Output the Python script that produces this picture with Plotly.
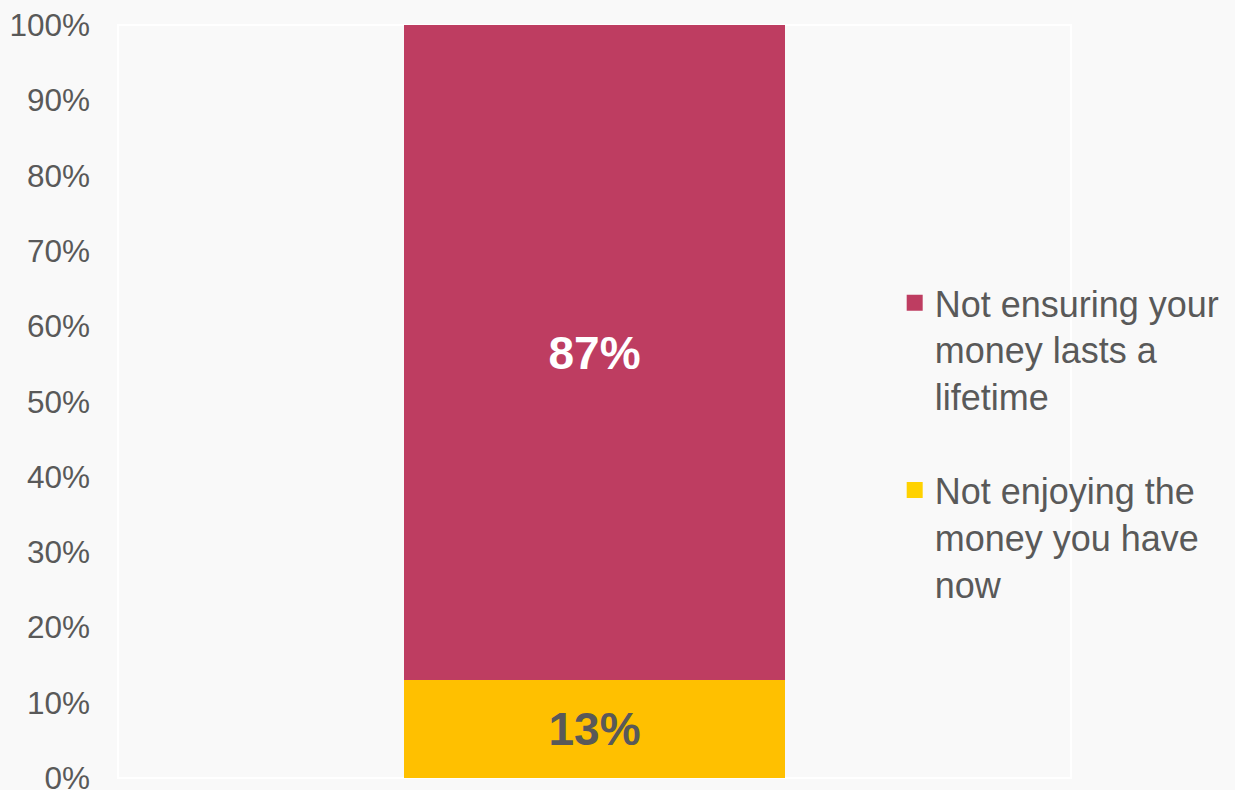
import plotly.graph_objects as go

categories = ["All"]
series_names = ["Not ensuring your<br>money lasts a<br>lifetime", "Not enjoying the<br>money you have<br>now"]
ensuring_vals = [87]
enjoying_vals = [13]
bar_colors = ["#BE3D61", "#FFC000"]
legend_colors = ["#BE3D61", "#FFD200"]
label_colors = ["#FFFFFF", "#595959"]
tick_vals = [0, 10, 20, 30, 40, 50, 60, 70, 80, 90, 100]
tick_text = [f"{v}%" for v in tick_vals]

fig = go.Figure()
fig.add_trace(go.Bar(
    x=categories, y=enjoying_vals, marker_color=bar_colors[1], width=0.4,
    marker_line_width=0,
    text=[f"{v}%" for v in enjoying_vals], textposition="inside",
    insidetextanchor="middle", textangle=0,
    textfont=dict(family="Liberation Sans, Arial", size=46, color=label_colors[1], weight="bold"),
    showlegend=False, hoverinfo="skip"))
fig.add_trace(go.Bar(
    x=categories, y=ensuring_vals, marker_color=bar_colors[0], width=0.4,
    marker_line_width=0,
    text=[f"{v}%" for v in ensuring_vals], textposition="inside",
    insidetextanchor="middle", textangle=0,
    textfont=dict(family="Liberation Sans, Arial", size=46, color=label_colors[0], weight="bold"),
    showlegend=False, hoverinfo="skip"))

# legend entries
fig.add_trace(go.Scatter(x=[None], y=[None], mode="markers", name=series_names[0],
                         marker=dict(symbol="square", size=16, color=legend_colors[0]),
                         legendgroup="a"))
fig.add_trace(go.Scatter(x=[None], y=[None], mode="markers", name=series_names[1],
                         marker=dict(symbol="square", size=16, color=legend_colors[1]),
                         legendgroup="b"))

fig.add_shape(type="rect", xref="paper", yref="paper", x0=0, x1=1, y0=0, y1=1,
              line=dict(color="#FFFFFF", width=2), layer="below")

fig.update_layout(
    barmode="stack",
    width=1235, height=790,
    margin=dict(l=118, r=164, t=25, b=12, autoexpand=False),
    paper_bgcolor="#F9F9F9", plot_bgcolor="#F9F9F9",
    font=dict(family="Liberation Sans, Arial", color="#595959"),
    xaxis=dict(visible=False, range=[-0.5, 0.5]),
    yaxis=dict(range=[0, 100], tickvals=tick_vals, ticktext=tick_text,
               showgrid=False, zeroline=False, showline=False, ticks="",
               automargin=False, ticklabeloverflow="allow",
               tickfont=dict(size=31.5, color="#595959"), ticklabelstandoff=27),
    legend=dict(x=0.815, xanchor="left", y=0.671, yanchor="top", valign="top",
                font=dict(size=36, color="#595959"), bgcolor="rgba(0,0,0,0)",
                tracegroupgap=44, traceorder="grouped", itemsizing="trace"),
)

fig.write_html("out.html")
